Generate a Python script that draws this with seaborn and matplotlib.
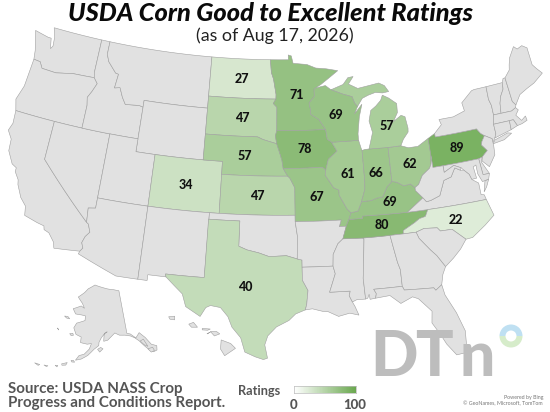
import numpy as np
import matplotlib
matplotlib.use("Agg")
import matplotlib.pyplot as plt
from matplotlib.patches import Wedge, Circle
import seaborn as sns

TITLE = "USDA Corn Good to Excellent Ratings"
SUBTITLE = "(as of Aug 17, 2026)"
SOURCE = "Source: USDA NASS Crop\nProgress and Conditions Report."
LEGEND_TITLE = "Ratings"
LEGEND_LOW = 0
LEGEND_HIGH = 100

RATED_STATES = ["ND", "SD", "NE", "KS", "CO", "TX", "MN", "IA", "MO", "WI", "IL", "IN",
                "MI", "OH", "KY", "TN", "NC", "PA"]
RATINGS = [27, 47, 57, 47, 34, 40, 71, 78, 67, 69, 61, 66, 57, 62, 69, 80, 22, 89]

# Geographic outlines, longitude / latitude
STATES = {
 "WA": [[(-124.73,48.38),(-123.1,48.15),(-122.75,48.15),(-122.5,47.35),(-122.3,47.6),(-122.4,48.3),(-122.75,49),(-117.03,49),(-117.04,46.42),(-116.92,46.0),(-119.3,45.93),(-121.2,45.65),(-122.8,45.7),(-123.2,46.15),(-123.95,46.2),(-124.1,46.9)]],
 "OR": [[(-124.2,42),(-124.55,42.85),(-124.1,44.0),(-123.95,46.2),(-123.2,46.15),(-122.8,45.7),(-121.2,45.65),(-119.3,45.93),(-116.92,46.0),(-116.46,45.6),(-116.85,44.9),(-117.2,44.4),(-117.03,43.8),(-117.03,42),(-120,42)]],
 "CA": [[(-124.2,42),(-120,42),(-120,39),(-114.63,35),(-114.43,34.9),(-114.14,34.3),(-114.5,33.9),(-114.7,33.4),(-114.5,33.0),(-114.72,32.72),(-117.12,32.53),(-117.3,33.0),(-117.9,33.6),(-118.4,33.75),(-118.5,34.03),(-119.2,34.15),(-120.5,34.45),(-120.65,35.15),(-121.3,35.7),(-121.9,36.6),(-122.0,36.95),(-122.5,37.5),(-122.5,37.8),(-123.0,38.0),(-123.7,38.9),(-123.8,39.8),(-124.35,40.4),(-124.1,41.0)]],
 "NV": [[(-120,42),(-114.04,42),(-114.04,36.2),(-114.74,36.1),(-114.63,35),(-120,39)]],
 "ID": [[(-117.03,49),(-116.05,49),(-116.05,48.0),(-115.7,47.45),(-114.7,46.7),(-114.35,46.65),(-114.5,45.55),(-113.9,45.65),(-113.45,44.95),(-113.0,44.45),(-111.5,44.55),(-111.05,44.48),(-111.05,42),(-117.03,42),(-117.03,43.8),(-117.2,44.4),(-116.85,44.9),(-116.46,45.6),(-116.92,46.0),(-117.04,46.42)]],
 "MT": [[(-116.05,49),(-104.05,49),(-104.05,45),(-111.05,45),(-111.05,44.48),(-111.5,44.55),(-113.0,44.45),(-113.45,44.95),(-113.9,45.65),(-114.5,45.55),(-114.35,46.65),(-114.7,46.7),(-115.7,47.45),(-116.05,48.0)]],
 "WY": [[(-111.05,45),(-104.05,45),(-104.05,41),(-111.05,41)]],
 "UT": [[(-114.04,42),(-111.05,42),(-111.05,41),(-109.05,41),(-109.05,37),(-114.04,37)]],
 "AZ": [[(-114.04,37),(-109.05,37),(-109.05,31.33),(-111.07,31.33),(-114.81,32.5),(-114.72,32.72),(-114.5,33.0),(-114.7,33.4),(-114.5,33.9),(-114.14,34.3),(-114.43,34.9),(-114.63,35),(-114.74,36.1),(-114.04,36.2)]],
 "CO": [[(-109.05,41),(-102.05,41),(-102.05,37),(-109.05,37)]],
 "NM": [[(-109.05,37),(-103.0,37),(-103.04,32),(-106.6,32),(-106.53,31.78),(-108.2,31.78),(-108.2,31.33),(-109.05,31.33)]],
 "ND": [[(-104.05,49),(-97.23,49),(-97.1,48),(-96.85,47.5),(-96.55,46.3),(-96.56,45.94),(-104.05,45.94)]],
 "SD": [[(-104.05,45.94),(-96.56,45.94),(-96.85,45.6),(-96.45,45.3),(-96.45,43.5),(-96.6,43.1),(-96.45,42.49),(-97.9,42.8),(-98.5,43),(-104.05,43)]],
 "NE": [[(-104.05,43),(-98.5,43),(-97.9,42.8),(-96.45,42.49),(-96.1,41.7),(-95.9,41.2),(-95.77,40.58),(-95.31,40),(-102.05,40),(-102.05,41),(-104.05,41)]],
 "KS": [[(-102.05,40),(-95.31,40),(-95.1,39.85),(-94.61,39.11),(-94.61,37),(-102.05,37)]],
 "OK": [[(-103,37),(-94.62,37),(-94.62,36.5),(-94.43,35.4),(-94.48,33.64),(-95.5,33.9),(-96.6,33.85),(-97.2,33.85),(-98.1,34.1),(-99.2,34.3),(-100,34.56),(-100,36.5),(-103,36.5)]],
 "TX": [[(-103.04,36.5),(-100,36.5),(-100,34.56),(-99.2,34.3),(-98.1,34.1),(-97.2,33.85),(-96.6,33.85),(-95.5,33.9),(-94.48,33.64),(-94.04,33.55),(-94.04,32),(-93.55,31.2),(-93.7,30.1),(-93.84,29.7),(-94.7,29.4),(-95.3,28.9),(-96.4,28.4),(-97.15,27.7),(-97.4,27.0),(-97.15,25.96),(-97.5,25.85),(-98.2,26.05),(-99.1,26.4),(-99.5,27.5),(-100.3,28.3),(-100.7,29.1),(-101.4,29.77),(-102.3,29.88),(-102.7,29.7),(-103.15,28.98),(-104.5,29.65),(-104.9,30.6),(-106.53,31.78),(-106.6,32),(-103.04,32)]],
 "MN": [[(-97.23,49),(-95.15,49),(-95.15,49.38),(-94.8,49.3),(-94.6,48.72),(-93.0,48.6),(-92,48.3),(-90.8,48.2),(-89.5,48.0),(-91.5,47.0),(-92.1,46.75),(-92.29,46.65),(-92.29,46.1),(-92.9,45.6),(-92.75,45),(-92.8,44.75),(-91.9,44.3),(-91.22,43.5),(-96.45,43.5),(-96.45,45.3),(-96.85,45.6),(-96.56,45.94),(-96.55,46.3),(-96.85,47.5),(-97.1,48)]],
 "IA": [[(-96.45,43.5),(-91.22,43.5),(-91.1,42.75),(-90.65,42.5),(-90.15,41.8),(-91.1,41.2),(-91.42,40.38),(-91.73,40.61),(-95.77,40.58),(-95.9,41.2),(-96.1,41.7),(-96.45,42.49),(-96.6,43.1)]],
 "MO": [[(-95.77,40.58),(-91.73,40.61),(-91.42,40.38),(-91.5,40.0),(-90.7,39.0),(-90.2,38.8),(-90.2,38.4),(-89.5,37.3),(-89.15,37.0),(-89.4,36.5),(-89.7,36.0),(-90.37,36.0),(-90.15,36.5),(-94.62,36.5),(-94.61,39.11),(-95.1,39.85),(-95.31,40)]],
 "AR": [[(-94.62,36.5),(-90.15,36.5),(-90.37,36.0),(-89.7,36.0),(-90.1,35.05),(-90.6,34.7),(-91.1,33.9),(-91.17,33),(-94.04,33),(-94.04,33.55),(-94.48,33.64),(-94.43,35.4)]],
 "LA": [[(-94.04,33),(-91.17,33),(-91.0,32.4),(-91.6,31),(-89.73,31),(-89.85,30.65),(-89.6,30.15),(-89.4,29.8),(-89.1,29.1),(-89.9,29.3),(-90.9,29.1),(-91.8,29.5),(-92.3,29.55),(-93.2,29.77),(-93.84,29.7),(-93.7,30.1),(-93.55,31.2),(-94.04,32)]],
 "MS": [[(-90.1,35.05),(-88.2,35),(-88.1,34.9),(-88.47,31.9),(-88.4,30.3),(-89.2,30.3),(-89.6,30.15),(-89.85,30.65),(-89.73,31),(-91.6,31),(-91.0,32.4),(-91.17,33),(-91.1,33.9),(-90.6,34.7)]],
 "AL": [[(-88.2,35),(-85.6,35),(-85.18,32.87),(-85,32.3),(-85,31),(-87.6,31),(-87.4,30.65),(-87.5,30.3),(-88,30.25),(-88.05,30.65),(-88.2,30.35),(-88.4,30.3),(-88.47,31.9),(-88.1,34.9)]],
 "TN": [[(-90.1,35.05),(-89.7,36.0),(-89.4,36.5),(-88.05,36.5),(-88.07,36.68),(-83.68,36.6),(-81.68,36.59),(-82,36.1),(-82.6,36),(-83.1,35.75),(-84.3,35.25),(-84.32,35),(-85.6,35),(-88.2,35)]],
 "KY": [[(-89.4,36.5),(-88.05,36.5),(-88.07,36.68),(-83.68,36.6),(-81.97,37.54),(-82.6,38.17),(-82.6,38.4),(-83,38.72),(-83.7,38.65),(-84.3,38.98),(-84.82,39.1),(-85.4,38.7),(-85.9,38),(-86.5,37.95),(-87.1,37.8),(-88.03,37.8),(-88.45,37.1),(-89.15,37)]],
 "IL": [[(-90.65,42.5),(-87.8,42.5),(-87.6,41.85),(-87.53,41.7),(-87.53,39.35),(-87.6,38.7),(-88.03,37.8),(-88.45,37.1),(-89.15,37),(-89.5,37.3),(-90.2,38.4),(-90.2,38.8),(-90.7,39),(-91.5,40),(-91.42,40.38),(-91.1,41.2),(-90.15,41.8)]],
 "IN": [[(-87.53,41.7),(-87.2,41.76),(-84.8,41.76),(-84.82,39.1),(-85.4,38.7),(-85.9,38),(-86.5,37.95),(-87.1,37.8),(-88.03,37.8),(-87.6,38.7),(-87.53,39.35)]],
 "OH": [[(-84.8,41.72),(-83.45,41.73),(-82.7,41.5),(-81.7,41.5),(-80.52,41.98),(-80.52,40.64),(-80.65,40),(-80.87,39.7),(-81.7,39.25),(-82.2,38.6),(-82.6,38.4),(-83,38.72),(-83.7,38.65),(-84.3,38.98),(-84.82,39.1)]],
 "MI": [[(-86.8,41.76),(-84.8,41.72),(-83.45,41.73),(-83.1,42.2),(-82.5,42.7),(-82.45,43),(-82.6,43.9),(-83,44.05),(-83.9,43.65),(-83.35,44.3),(-83.3,45),(-84.1,45.5),(-84.75,45.78),(-85,45.4),(-85.6,45),(-86.2,44.7),(-86.5,43.9),(-86.25,43),(-86.6,42.2)],
        [(-90.4,46.55),(-89,46.9),(-88.4,47.4),(-87.8,47.45),(-88.4,46.9),(-87.4,46.5),(-86,46.65),(-85,46.75),(-84.4,46.5),(-84,46),(-84.7,45.95),(-85.5,46.05),(-86.3,45.9),(-87,45.7),(-87.6,45.1),(-87.9,45.4),(-88.1,45.9),(-89.1,46.15)]],
 "WI": [[(-92.1,46.75),(-91,46.9),(-90.4,46.55),(-89.1,46.15),(-88.1,45.9),(-87.9,45.4),(-87.6,45.1),(-88,44.55),(-87.1,45.25),(-87.5,44.3),(-87.8,43),(-87.8,42.5),(-90.65,42.5),(-91.1,42.75),(-91.22,43.5),(-91.9,44.3),(-92.8,44.75),(-92.75,45),(-92.9,45.6),(-92.29,46.1),(-92.29,46.65)]],
 "PA": [[(-80.52,41.98),(-79.76,42.27),(-79.76,42),(-75.35,42),(-75.05,41.6),(-74.7,41.36),(-75.1,40.95),(-75.2,40.7),(-74.75,40.2),(-75.4,39.8),(-75.79,39.72),(-80.52,39.72)]],
 "NY": [[(-79.76,42),(-79.76,42.27),(-78.9,42.85),(-79.05,43.27),(-77.5,43.27),(-76.2,43.55),(-76.3,44.2),(-75,44.95),(-74.7,45),(-73.34,45),(-73.4,44),(-73.25,43.5),(-73.27,42.75),(-73.5,42.05),(-73.5,41.3),(-73.7,41),(-74,40.7),(-74,41),(-74.7,41.36),(-75.05,41.6),(-75.35,42)],
        [(-74,40.6),(-73.75,40.85),(-72.3,41.15),(-71.9,41.05),(-72.8,40.7)]],
 "VT": [[(-73.34,45),(-71.5,45),(-71.6,44.5),(-72.05,44),(-72.3,43.5),(-72.46,42.73),(-73.27,42.75),(-73.25,43.5),(-73.4,44)]],
 "NH": [[(-71.5,45),(-71.3,45.3),(-71.08,45.3),(-70.98,43.4),(-70.7,43.07),(-70.82,42.87),(-71.3,42.7),(-72.46,42.73),(-72.3,43.5),(-72.05,44),(-71.6,44.5)]],
 "ME": [[(-71.08,45.3),(-70.4,45.8),(-70.25,46.2),(-70,46.7),(-69.23,47.46),(-68.9,47.2),(-68.3,47.35),(-67.8,47.07),(-67.8,45.7),(-67.45,45.3),(-67,44.85),(-68.2,44.3),(-69.1,44.05),(-70,43.75),(-70.7,43.07),(-70.98,43.4)]],
 "MA": [[(-73.5,42.05),(-73.27,42.75),(-72.46,42.73),(-71.3,42.7),(-70.82,42.87),(-70.6,42.65),(-71,42.3),(-70.55,41.8),(-70.05,42.05),(-70,41.7),(-70.6,41.55),(-71.12,41.5),(-71.38,42.02),(-71.8,42.02)]],
 "CT": [[(-73.5,42.05),(-71.8,42.02),(-71.85,41.32),(-73.7,41),(-73.5,41.3)]],
 "RI": [[(-71.8,42.02),(-71.38,42.02),(-71.12,41.5),(-71.85,41.32)]],
 "NJ": [[(-74.7,41.36),(-74,41),(-74,40.45),(-74.1,39.75),(-74.9,38.95),(-75.5,39.5),(-75.4,39.8),(-74.75,40.2),(-75.2,40.7),(-75.1,40.95)]],
 "DE": [[(-75.79,39.72),(-75.4,39.8),(-75.6,39.45),(-75.05,38.45),(-75.7,38.46)]],
 "MD": [[(-79.48,39.72),(-75.79,39.72),(-75.7,38.46),(-75.05,38.45),(-75.25,38.03),(-75.9,37.95),(-76.2,38.6),(-76.2,39.3),(-76.5,39.2),(-76.4,38.3),(-76.9,38.28),(-77.05,38.7),(-77.5,39.1),(-77.72,39.32),(-78.4,39.6),(-79.48,39.2)]],
 "VA": [[(-83.68,36.6),(-81.68,36.59),(-75.9,36.55),(-76,36.93),(-76.3,37),(-76.3,37.9),(-76.9,38.28),(-77.05,38.7),(-77.5,39.1),(-77.83,39.14),(-78.35,39.4),(-78.87,38.77),(-79.65,38.6),(-80.3,37.5),(-81.25,37.25),(-81.68,37.2),(-81.97,37.54)],
        [(-75.25,38.03),(-75.65,37.95),(-75.95,37.15),(-75.6,37.5)]],
 "WV": [[(-80.52,40.64),(-80.52,39.72),(-79.48,39.72),(-79.48,39.2),(-78.4,39.6),(-77.72,39.32),(-77.83,39.14),(-78.35,39.4),(-78.87,38.77),(-79.65,38.6),(-80.3,37.5),(-81.25,37.25),(-81.68,37.2),(-81.97,37.54),(-82.6,38.17),(-82.6,38.4),(-82.2,38.6),(-81.7,39.25),(-80.87,39.7),(-80.65,40)]],
 "NC": [[(-84.32,35),(-84.3,35.25),(-83.1,35.75),(-82.6,36),(-82,36.1),(-81.68,36.59),(-75.9,36.55),(-75.5,35.25),(-76.5,34.65),(-77.9,33.9),(-78.55,33.86),(-79.68,34.8),(-80.8,34.82),(-81.05,35.1),(-82.3,35.2),(-83.1,35)]],
 "SC": [[(-83.1,35),(-82.3,35.2),(-81.05,35.1),(-80.8,34.82),(-79.68,34.8),(-78.55,33.86),(-79.2,33.2),(-80,32.6),(-80.85,32.05),(-81.5,33),(-82,33.5),(-82.9,34.5)]],
 "GA": [[(-85.6,35),(-83.1,35),(-82.9,34.5),(-82,33.5),(-81.5,33),(-80.85,32.05),(-81.2,31.5),(-81.45,30.72),(-82.05,30.36),(-82.2,30.57),(-84.86,30.7),(-85,31),(-85,32.3),(-85.18,32.87)]],
 "FL": [[(-87.6,31),(-85,31),(-84.86,30.7),(-82.2,30.57),(-82.05,30.36),(-81.45,30.72),(-81.3,29.9),(-80.55,28.4),(-80.05,26.9),(-80.15,25.75),(-80.4,25.2),(-81.1,25.15),(-81.8,26.1),(-82.2,26.9),(-82.8,27.9),(-82.65,28.8),(-83.7,29.9),(-84.2,30.1),(-85.3,29.7),(-86.2,30.4),(-87.5,30.3),(-87.4,30.65)]],
}
ALASKA = [[(-141,69.65),(-141,60.3),(-139.5,60),(-137.5,58.9),(-135.5,59.8),(-133.5,58.4),(-131.9,56.6),(-130,55.9),(-130.5,55),(-132,54.9),(-133.2,55.5),(-134.5,56.5),(-136.4,58.1),(-138,59),(-139.7,59.6),(-142,60),(-144.5,60.2),(-146.5,60.8),(-148.3,60.1),(-150,59.4),(-151.8,59.2),(-151.5,60.7),(-150,61.2),(-151,61),(-152.8,60),(-153.9,59),(-154,58.3),(-156,57.5),(-158.5,56.1),(-161,55.2),(-163.2,54.8),(-162,55.9),(-160,56.3),(-158,57.5),(-157.2,58.7),(-159,58.5),(-162,58.7),(-162,59.9),(-164.5,60.3),(-166,61.6),(-165,62.7),(-163,63.1),(-161,63.5),(-161,64.5),(-163,64.6),(-166.3,64.6),(-168.1,65.6),(-164,66.5),(-162,66.1),(-163.5,67.1),(-166.5,68.3),(-163,69.5),(-161,70.4),(-156.6,71.35),(-152,70.85),(-148,70.4),(-144,70.05)],
          [(-154.5,57.5),(-153.2,57.9),(-152.2,57.6),(-153.6,56.9)],
          [(-167.4,60.2),(-166,60.4),(-165.6,60),(-166.6,59.85)],
          [(-171.7,63.6),(-170,63.7),(-168.8,63.3),(-170.4,63.3)],
          [(-164.9,54.6),(-164,54.7),(-163.4,54.35),(-164.5,54.3)],
          [(-168.2,53.5),(-166.2,54),(-166.6,53.4),(-168,53.2)],
          [(-170.5,52.85),(-169.5,52.95),(-169.7,52.6)],
          [(-174.5,52.2),(-173,52.3),(-173.5,52.05)],
          [(-178,51.95),(-176,52),(-176.5,51.7)],
          [(-173.5,60.7),(-172.9,60.5),(-172.7,60.35)],
          [(-136,58),(-134.5,58.2),(-133.5,56.4),(-134.8,57)],
          [(-133.8,55.9),(-131.8,55.9),(-131.5,55.1),(-132.9,55)]]
HAWAII = [[(-159.8,22.15),(-159.35,22.2),(-159.35,21.9),(-159.7,21.95)],
          [(-158.3,21.55),(-157.95,21.7),(-157.65,21.3),(-158.1,21.3)],
          [(-157.3,21.2),(-156.7,21.15),(-156.9,21.05),(-157.3,21.08)],
          [(-156.7,20.95),(-156.25,20.95),(-156,20.75),(-156.4,20.58)],
          [(-156.7,20.9),(-156.85,20.8),(-156.95,20.75)],
          [(-155.9,20.25),(-155.2,19.95),(-154.85,19.55),(-155.65,18.95),(-155.95,19.5)]]

sns.set_theme(style="white")
plt.rcParams["font.family"] = ["Lato", "DejaVu Sans"]
GREEN_RAMP = sns.blend_palette(["#ffffff", "#6aa84f"], as_cmap=True)
LAND = "#e1e1e1"
EDGE = "#a0a0a0"
TEXT_GRAY = "#555555"


def albers(lon, lat, p1, p2, lon0, lat0):
    p1, p2, lon0, lat0 = map(np.radians, (p1, p2, lon0, lat0))
    lon, lat = np.radians(lon), np.radians(lat)
    n = (np.sin(p1) + np.sin(p2)) / 2
    c = np.cos(p1) ** 2 + 2 * n * np.sin(p1)
    rho = np.sqrt(c - 2 * n * np.sin(lat)) / n
    rho0 = np.sqrt(c - 2 * n * np.sin(lat0)) / n
    return rho * np.sin(n * (lon - lon0)), rho0 - rho * np.cos(n * (lon - lon0))


def densify(ring):
    pts = np.array(ring + ring[:1], float)
    out = []
    for a, b in zip(pts[:-1], pts[1:]):
        k = max(int(np.hypot(*(b - a))), 1)
        out.extend(a + (b - a) * i / k for i in range(k))
    return np.array(out)


def main_proj(ring):
    p = densify(ring)
    x, y = albers(p[:, 0], p[:, 1], 29.5, 45.5, -96, 37.5)
    return np.c_[281 + 741 * x, 208.8 - 740 * y]


def inset_proj(ring, args, a_ll, a_px, b_ll, b_px):
    p = densify(ring)
    x, y = albers(p[:, 0], p[:, 1], *args)
    xa, ya = albers(np.array(a_ll[0]), np.array(a_ll[1]), *args)
    xb, yb = albers(np.array(b_ll[0]), np.array(b_ll[1]), *args)
    sx = (b_px[0] - a_px[0]) / (xb - xa)
    sy = (b_px[1] - a_px[1]) / (yb - ya)
    return np.c_[a_px[0] + (x - xa) * sx, a_px[1] + (y - ya) * sy]


def centroid(xy):
    x, y = xy[:, 0], xy[:, 1]
    cross = x * np.roll(y, -1) - np.roll(x, -1) * y
    a = cross.sum() / 2
    return ((x + np.roll(x, -1)) * cross).sum() / (6 * a), ((y + np.roll(y, -1)) * cross).sum() / (6 * a)


fig = plt.figure(figsize=(5.5, 4.12), dpi=100, facecolor="white")
ax = fig.add_axes([0, 0, 1, 1])
ax.set_xlim(0, 550)
ax.set_ylim(412, 0)
ax.axis("off")

rating_of = dict(zip(RATED_STATES, RATINGS))
for st, rings in STATES.items():
    col = GREEN_RAMP(rating_of[st] / 100) if st in rating_of else LAND
    shapes = [main_proj(r) for r in rings]
    for xy in shapes:
        ax.fill(xy[:, 0], xy[:, 1], facecolor=col, edgecolor=EDGE, linewidth=0.4, zorder=2)
    if st in rating_of:
        cx, cy = centroid(shapes[0])
        ax.text(cx, cy + 0.5, str(rating_of[st]), ha="center", va="center", fontsize=9,
                fontweight="black", color="#111111", zorder=5)

for r in ALASKA:
    xy = inset_proj(r, (55, 65, -154, 50), (-156.6, 71.35), (95, 285), (-130.5, 55), (157, 350))
    ax.fill(xy[:, 0], xy[:, 1], facecolor=LAND, edgecolor=EDGE, linewidth=0.4, zorder=2)
for r in HAWAII:
    xy = inset_proj(r, (8, 18, -157, 13), (-155.4, 19.5), (228, 349), (-159.55, 22.05), (172, 318))
    ax.fill(xy[:, 0], xy[:, 1], facecolor=LAND, edgecolor=EDGE, linewidth=0.4, zorder=2)

ax.text(270, 13, TITLE, ha="center", va="center", fontsize=18.3, fontweight="black",
        fontstyle="italic", color="#0a0a0a", zorder=6)
ax.text(275, 35.5, SUBTITLE, ha="center", va="center", fontsize=12.8, color="#222222", zorder=6)
ax.text(8, 396, SOURCE, ha="left", va="center", fontsize=10.9, fontweight="bold",
        color=TEXT_GRAY, linespacing=1.05, zorder=6)

# DTN watermark
for letter, lx in zip("DTn", (394, 433.5, 477.5)):
    ax.text(lx, 358, letter, ha="center", va="center", fontsize=45, fontweight="black",
            color="#bdbdbd", zorder=4)
ax.add_patch(Wedge((511, 336), 11.5, 180, 360, facecolor="#bfe0f2", edgecolor="none", zorder=4))
ax.add_patch(Wedge((511, 336), 11.5, 0, 180, facecolor="#d6ecca", edgecolor="none", zorder=4))
ax.add_patch(Circle((511, 336), 5.5, facecolor="white", edgecolor="none", zorder=4))

# Legend
ax.text(238, 391, LEGEND_TITLE, ha="left", va="center", fontsize=9.2, fontweight="bold", color=TEXT_GRAY)
ax.text(294, 405, str(LEGEND_LOW), ha="center", va="center", fontsize=9.5, fontweight="black", color=TEXT_GRAY)
ax.text(355, 405, str(LEGEND_HIGH), ha="center", va="center", fontsize=9.5, fontweight="black", color=TEXT_GRAY)
lax = fig.add_axes([294 / 550, 1 - 393 / 412, 62 / 550, 7 / 412])
sns.heatmap(np.arange(LEGEND_LOW, LEGEND_HIGH + 1)[None, :], ax=lax, cmap=GREEN_RAMP, vmin=LEGEND_LOW, vmax=LEGEND_HIGH,
            cbar=False, xticklabels=False, yticklabels=False, rasterized=True)
for s in lax.spines.values():
    s.set_visible(True)
    s.set_color("#bbbbbb")
    s.set_linewidth(0.5)

ax.text(543, 397, "Powered by Bing", ha="right", va="center", fontsize=3.8, color="#777777")
ax.text(543, 404, "© GeoNames, Microsoft, TomTom", ha="right", va="center", fontsize=3.8, color="#777777")

fig.savefig("out.png", dpi=100, facecolor="white")
